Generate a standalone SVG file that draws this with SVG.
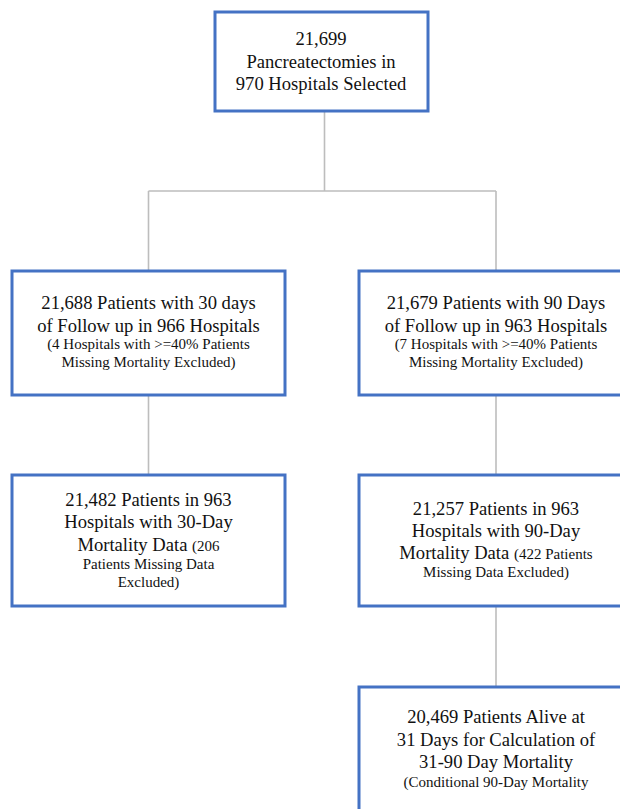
<svg xmlns="http://www.w3.org/2000/svg" width="620" height="809" viewBox="0 0 620 809">
<style>
.box{fill:#fff;stroke:#4472C4;stroke-width:3}
.t{font-family:"Liberation Serif","Times New Roman",serif;font-size:18.6px;fill:#111;text-anchor:middle}
.s{font-size:15px}
.c{fill:none;stroke:#BDBDBD;stroke-width:1.6}
</style>
<rect width="620" height="809" fill="#fff"/>
<g id="connectors">
<path class="c" d="M324.5 111V191M148.5 191H496M148.5 191V270M496 191V270M148.5 395V474M496 395V474M496 606V687"/>
</g>
<g id="n1">
<rect class="box" x="215" y="12" width="213" height="99"/>
<text class="t" x="321" y="45">21,699</text>
<text class="t" x="321" y="67.7">Pancreatectomies in</text>
<text class="t" x="321" y="90">970 Hospitals Selected</text>
</g>
<g id="n2">
<rect class="box" x="12" y="271" width="273" height="124"/>
<text class="t" x="148.5" y="309.3">21,688 Patients with 30 days</text>
<text class="t" x="148.5" y="331.7">of Follow up in 966 Hospitals</text>
<text class="t s" x="148.5" y="349.3">(4 Hospitals with &gt;=40% Patients</text>
<text class="t s" x="148.5" y="366.7">Missing Mortality Excluded)</text>
</g>
<g id="n3">
<rect class="box" x="359" y="271" width="274" height="124"/>
<text class="t" x="496" y="309.3">21,679 Patients with 90 Days</text>
<text class="t" x="496" y="331.7">of Follow up in 963 Hospitals</text>
<text class="t s" x="496" y="349.3">(7 Hospitals with &gt;=40% Patients</text>
<text class="t s" x="496" y="366.7">Missing Mortality Excluded)</text>
</g>
<g id="n4">
<rect class="box" x="12" y="475" width="273" height="131"/>
<text class="t" x="148.5" y="506">21,482 Patients in 963</text>
<text class="t" x="148.5" y="528.3">Hospitals with 30-Day</text>
<text class="t" x="148.5" y="550.7">Mortality Data <tspan class="s">(206</tspan></text>
<text class="t s" x="148.5" y="569.3">Patients Missing Data</text>
<text class="t s" x="148.5" y="586.7">Excluded)</text>
</g>
<g id="n5">
<rect class="box" x="359" y="475" width="274" height="131"/>
<text class="t" x="496" y="515">21,257 Patients in 963</text>
<text class="t" x="496" y="537.3">Hospitals with 90-Day</text>
<text class="t" x="496" y="559.3">Mortality Data <tspan class="s">(422 Patients</tspan></text>
<text class="t s" x="496" y="576.7">Missing Data Excluded)</text>
</g>
<g id="n6">
<rect class="box" x="359" y="687" width="274" height="140"/>
<text class="t" x="496" y="723.3">20,469 Patients Alive at</text>
<text class="t" x="496" y="746">31 Days for Calculation of</text>
<text class="t" x="496" y="768.3">31-90 Day Mortality</text>
<text class="t s" x="496" y="786.7">(Conditional 90-Day Mortality</text>
</g>
</svg>
